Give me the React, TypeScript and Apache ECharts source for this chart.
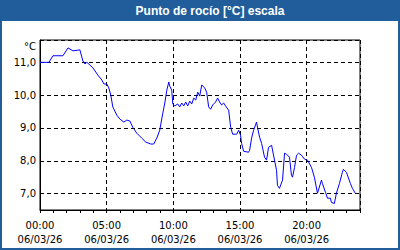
import React, { useEffect, useRef } from "react";
import * as echarts from "echarts";

const hours = [
  0, 0.67, 0.97, 1.72, 2.1, 2.47, 2.99, 3.22, 3.37, 3.52, 3.97, 4.34, 4.64, 4.79, 5.01, 5.16, 5.31,
  5.46, 5.76, 5.99, 6.29, 6.51, 6.74, 6.96, 7.26, 7.63, 7.93, 8.31, 8.53, 8.76, 8.98, 9.21, 9.36,
  9.51, 9.66, 9.73, 9.88, 9.96, 10.1, 10.33, 10.48, 10.63, 10.78, 10.93, 11.08, 11.23, 11.38,
  11.53, 11.68, 11.83, 11.98, 12.13, 12.35, 12.5, 12.65, 12.8, 12.95, 13.17, 13.32, 13.47, 13.62,
  13.77, 13.92, 14.15, 14.3, 14.45, 14.75, 14.9, 15.04, 15.12, 15.27, 15.64, 15.72, 15.87, 16.02,
  16.24, 16.32, 16.47, 16.62, 16.84, 16.99, 17.14, 17.37, 17.74, 17.81, 17.96, 18.19, 18.34,
  18.49, 18.71, 18.86, 18.94, 19.09, 19.24, 19.39, 19.61, 19.84, 20.06, 20.36, 20.58, 20.81,
  21.11, 21.18, 21.41, 21.56, 21.78, 21.86, 22.08, 22.23, 22.46, 22.68, 22.75, 22.98, 23.28,
  23.43, 23.65,
];
const dewPoint = [
  11.0, 11.0, 11.2, 11.2, 11.44, 11.35, 11.38, 11.04, 10.95, 11.0, 10.83, 10.61, 10.46, 10.34,
  10.34, 10.22, 10.0, 9.64, 9.39, 9.27, 9.18, 9.24, 9.21, 9.02, 8.84, 8.69, 8.57, 8.51, 8.51,
  8.69, 8.93, 9.45, 9.76, 10.15, 10.4, 10.28, 10.15, 9.73, 9.67, 9.73, 9.64, 9.76, 9.67, 9.79,
  9.67, 9.82, 9.73, 9.91, 9.85, 10.09, 9.97, 10.31, 10.22, 10.09, 9.64, 9.57, 9.7, 9.79, 9.91,
  9.79, 9.7, 9.76, 9.67, 9.54, 9.02, 8.81, 8.81, 8.93, 8.78, 8.53, 8.29, 8.26, 8.32, 8.69, 8.93,
  9.18, 9.0, 8.72, 8.53, 8.11, 8.02, 8.41, 8.47, 7.71, 7.25, 7.16, 7.41, 8.23, 8.2, 8.11, 7.56,
  7.5, 7.8, 8.17, 8.23, 8.17, 8.05, 8.02, 7.8, 7.5, 7.01, 7.41, 7.31, 7.04, 6.86, 6.86, 6.73,
  6.7, 7.01, 7.31, 7.65, 7.74, 7.65, 7.31, 7.16, 7.01,
];
const xTickLabels = ["00:00", "05:00", "10:00", "15:00", "20:00"];
const dateLabel = "06/03/26";
const titleText = "Punto de rocío [°C] escala";
const unitText = "°C";

const FONT = "DejaVu Sans";
const BLUE = "#215d9a";

export default function App() {
  const ref = useRef<HTMLDivElement>(null);
  useEffect(() => {
    document.body.style.margin = "0";
    const chart = echarts.init(ref.current!, undefined, { renderer: "svg" });
    const data = hours.map((h, i) => [h, dewPoint[i]]);
    chart.setOption({
      animation: false,
      backgroundColor: "#ffffff",
      grid: {
        left: 40,
        right: 40,
        top: 40,
        bottom: 40,
        show: true,
        borderColor: "#000",
        borderWidth: 1,
        backgroundColor: "transparent",
      },
      graphic: [
        { type: "rect", shape: { x: 0, y: 0, width: 400, height: 21 }, style: { fill: BLUE }, z: 10 },
        {
          type: "text",
          x: 210,
          y: 10.5,
          style: {
            text: titleText,
            fill: "#fff",
            font: "bold 12px 'Liberation Sans'",
            align: "center",
            verticalAlign: "middle",
          },
          z: 11,
        },
        {
          type: "rect",
          shape: { x: 1, y: 1, width: 398, height: 248 },
          style: { fill: "none", stroke: BLUE, lineWidth: 2 },
          z: 10,
        },
        {
          type: "text",
          x: 36,
          y: 46,
          style: {
            text: unitText,
            fill: "#000",
            font: `10px '${FONT}'`,
            align: "right",
            verticalAlign: "middle",
          },
          z: 11,
        },
      ],
      xAxis: [
        {
          type: "value",
          min: 0,
          max: 24,
          interval: 5,
          position: "bottom",
          axisLine: { show: true, lineStyle: { color: "#000", width: 1 } },
          axisTick: { show: false },
          axisLabel: {
            show: true,
            color: "#000",
            fontFamily: FONT,
            fontSize: 10,
            lineHeight: 14,
            margin: 8,
            showMaxLabel: false,
            formatter: (v: number) => {
              const idx = Math.round(v / 5);
              if (v % 5 !== 0 || idx >= xTickLabels.length) return "";
              return `${xTickLabels[idx]}\n${dateLabel}`;
            },
          },
          splitLine: { show: true, lineStyle: { color: "#000", type: [4, 3], width: 1 } },
        },
        {
          type: "value",
          min: 0,
          max: 24,
          interval: 1,
          position: "bottom",
          axisLine: { show: false },
          axisTick: { show: true, length: 3, lineStyle: { color: "#000" } },
          axisLabel: { show: false },
          splitLine: { show: false },
        },
      ],
      yAxis: {
        type: "value",
        min: 6.5,
        max: 11.68,
        splitNumber: 5,
        axisLine: { show: true, lineStyle: { color: "#000" } },
        axisTick: { show: false },
        axisLabel: {
          color: "#000",
          fontFamily: FONT,
          fontSize: 10,
          margin: 4,
          showMinLabel: false,
          showMaxLabel: false,
          formatter: (v: number) => (Math.abs(v - Math.round(v)) < 1e-6 ? v.toFixed(1).replace(".", ",") : ""),
        },
        splitLine: { show: true, lineStyle: { color: "#000", type: [4, 3], width: 1 } },
      },
      series: [
        {
          type: "line",
          xAxisIndex: 0,
          data,
          showSymbol: false,
          symbol: "none",
          lineStyle: { color: "#0000ff", width: 1 },
        },
      ],
    });
    return () => chart.dispose();
  }, []);
  return <div ref={ref} style={{ position: "absolute", left: 0, top: 0, width: 400, height: 250 }} />;
}
